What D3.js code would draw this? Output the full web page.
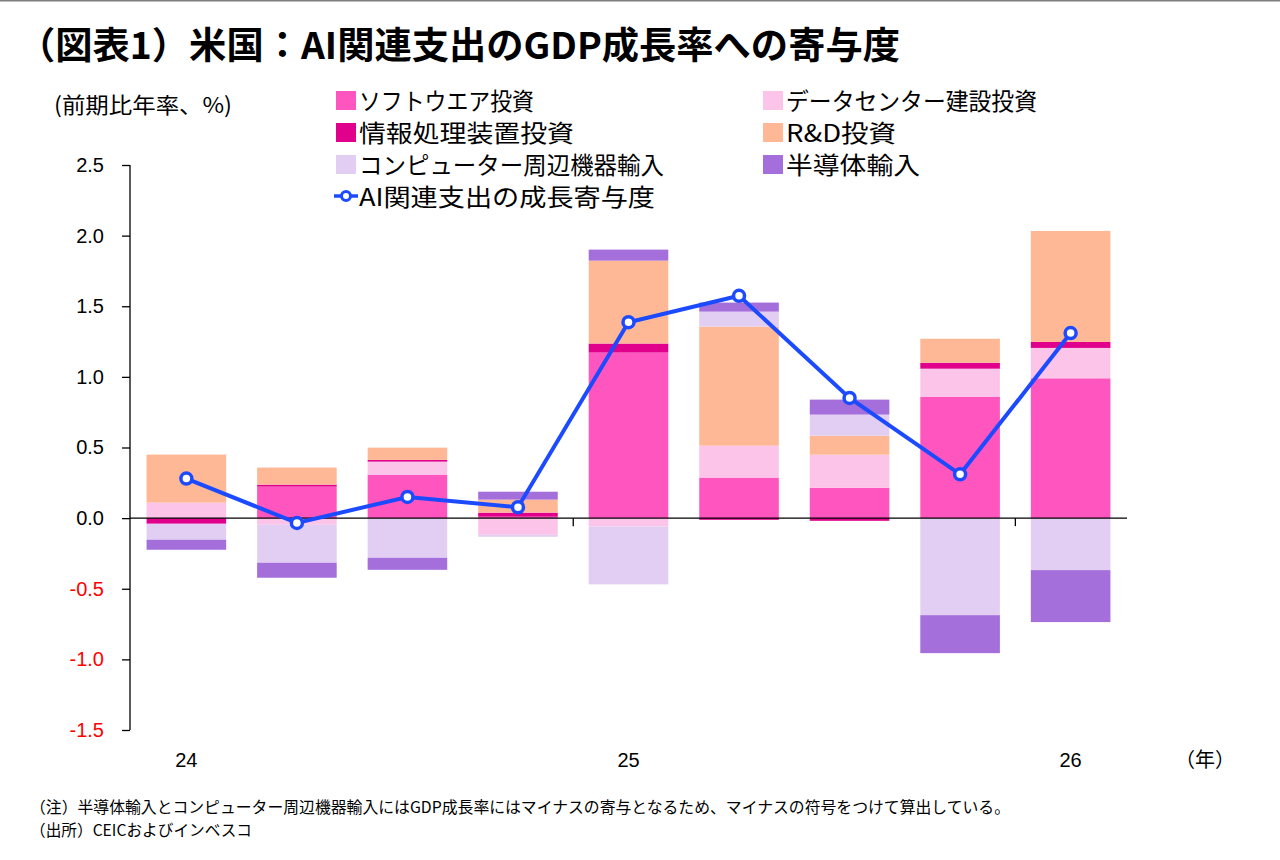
<!DOCTYPE html>
<html>
<head>
<meta charset="utf-8">
<script src="https://cdn.jsdelivr.net/npm/d3@7"></script>
<style>
  body { margin: 0; background: #fff; }
  svg { display: block; }
  .jp { font-family: "Noto Sans CJK JP", sans-serif; }
  .num { font-family: "Liberation Sans", Arial, sans-serif; }
</style>
</head>
<body>
<svg width="1280" height="860"></svg>
<script>
// 四半期（24Q1〜26Q1）
var quarters = ["24Q1","24Q2","24Q3","24Q4","25Q1","25Q2","25Q3","25Q4","26Q1"];
var yearLabels = ["24","","","","25","","","","26"];

var software   = [0.00, 0.223, 0.308, 0.010, 1.172, 0.287, 0.215, 0.860, 0.990];
var datacenter = [0.11, -0.047, 0.092, -0.118, -0.059, 0.226, 0.234, 0.198, 0.215];
var infoEquip  = [-0.04, 0.014, 0.012, 0.029, 0.064, -0.012, -0.019, 0.042, 0.042];
var rnd        = [0.34, 0.121, 0.087, 0.092, 0.587, 0.843, 0.135, 0.170, 0.786];
var computer   = [-0.113, -0.269, -0.281, -0.014, -0.410, 0.106, 0.149, -0.687, -0.368];
var semi       = [-0.071, -0.106, -0.085, 0.056, 0.078, 0.064, 0.106, -0.269, -0.368];
var aiTotal    = [0.28, -0.034, 0.15, 0.077, 1.387, 1.574, 0.851, 0.31, 1.31];

var yTicks = [2.5, 2.0, 1.5, 1.0, 0.5, 0.0, -0.5, -1.0, -1.5];

var series = [
  { key: "software",   name: "ソフトウエア投資",           values: software,   color: "#ff55bf" },
  { key: "datacenter", name: "データセンター建設投資",     values: datacenter, color: "#fdc4ea" },
  { key: "info",       name: "情報処理装置投資",           values: infoEquip,  color: "#e0008c" },
  { key: "rnd",        name: "R&D投資",                    values: rnd,        color: "#ffb896" },
  { key: "computer",   name: "コンピューター周辺機器輸入", values: computer,   color: "#e2cdf3" },
  { key: "semi",       name: "半導体輸入",                 values: semi,       color: "#a56fdb" }
];
var lineName = "AI関連支出の成長寄与度";
var lineColor = "#1c4bff";

var svg = d3.select("svg");

// 上端の罫線
svg.append("line").attr("x1", 0).attr("x2", 1280).attr("y1", 0.5).attr("y2", 0.5)
   .attr("stroke", "#7f7f7f").attr("stroke-width", 2);

svg.append("text").attr("class", "jp")
   .attr("x", 18).attr("y", 59)
   .attr("font-size", 37).attr("font-weight", "bold")
   .attr("textLength", 882).attr("lengthAdjust", "spacingAndGlyphs")
   .text("（図表1）米国：AI関連支出のGDP成長率への寄与度");

svg.append("text").attr("class", "jp")
   .attr("x", 54).attr("y", 113).attr("font-size", 22)
   .attr("textLength", 178).attr("lengthAdjust", "spacingAndGlyphs")
   .text("(前期比年率、%)");

var x = d3.scaleBand().domain(quarters).range([130, 1127])
          .paddingInner(0.28).paddingOuter(0.15);
var y = d3.scaleLinear().domain([-1.5, 2.5]).range([730, 165]);

var table = quarters.map(function(q, i) {
  var row = { q: q };
  series.forEach(function(s) { row[s.key] = s.values[i]; });
  return row;
});

var stack = d3.stack()
  .keys(series.map(function(s) { return s.key; }))
  .offset(d3.stackOffsetDiverging);

var layers = stack(table);

var g = svg.append("g");
g.selectAll(".layer")
 .data(layers)
 .enter().append("g")
 .attr("class", "layer")
 .attr("fill", function(d, i) { return series[i].color; })
 .selectAll("rect")
 .data(function(d) { return d; })
 .enter().append("rect")
 .attr("x", function(d) { return x(d.data.q); })
 .attr("width", x.bandwidth())
 .attr("y", function(d) { return y(Math.max(d[0], d[1])); })
 .attr("height", function(d) { return Math.abs(y(d[0]) - y(d[1])); });

// Y軸
var yAxis = d3.axisLeft(y).tickValues(yTicks)
  .tickFormat(function(d) { return d.toFixed(1); })
  .tickSize(8).tickPadding(18);
var ya = svg.append("g").attr("transform", "translate(130,0)").call(yAxis);
ya.select(".domain").attr("stroke", "#000").attr("stroke-width", 1.3).attr("d", "M0,165V730");
ya.selectAll(".tick line").attr("stroke", "#000").attr("stroke-width", 1.3);
ya.selectAll("text").attr("class", "num").attr("font-size", 20)
  .attr("fill", function(d) { return d < 0 ? "#ff0000" : "#000"; });

// ゼロ軸と年区切り
svg.append("line").attr("x1", 130).attr("x2", 1127)
   .attr("y1", y(0)).attr("y2", y(0)).attr("stroke", "#000").attr("stroke-width", 1.3);
var yearStarts = [4, 8];
svg.selectAll(".ytick").data(yearStarts).enter().append("line")
   .attr("x1", function(i) { return x(quarters[i]) - x.step() * x.paddingInner() / 2; })
   .attr("x2", function(i) { return x(quarters[i]) - x.step() * x.paddingInner() / 2; })
   .attr("y1", y(0)).attr("y2", y(0) + 8).attr("stroke", "#000").attr("stroke-width", 1.3);

svg.selectAll(".xlab").data(quarters).enter().append("text")
   .attr("class", "num").attr("font-size", 20).attr("text-anchor", "middle")
   .attr("x", function(d) { return x(d) + x.bandwidth() / 2; })
   .attr("y", 767)
   .text(function(d, i) { return yearLabels[i]; });

svg.append("text").attr("class", "jp").attr("x", 1205).attr("y", 767)
   .attr("font-size", 20).attr("text-anchor", "middle").text("（年）");

// 折れ線
var line = d3.line()
  .x(function(d, i) { return x(quarters[i]) + x.bandwidth() / 2; })
  .y(function(d) { return y(d); });

svg.append("path").datum(aiTotal)
   .attr("d", line).attr("fill", "none")
   .attr("stroke", lineColor).attr("stroke-width", 4);

svg.selectAll(".dot").data(aiTotal).enter().append("circle")
   .attr("cx", function(d, i) { return x(quarters[i]) + x.bandwidth() / 2; })
   .attr("cy", function(d) { return y(d); })
   .attr("r", 5.5).attr("fill", "#fff")
   .attr("stroke", lineColor).attr("stroke-width", 3.5);

// 凡例
var legendWidths = [175, 251, 215, 110, 305, 134];
var legend = svg.append("g");
series.forEach(function(s, i) {
  var col = i % 2, row = Math.floor(i / 2);
  var lx = col === 0 ? 336 : 763, ly = 100 + row * 32;
  legend.append("rect").attr("x", lx).attr("y", ly - 9).attr("width", 20).attr("height", 19)
        .attr("fill", s.color);
  legend.append("text").attr("class", "jp").attr("x", lx + 23).attr("y", ly + 10)
        .attr("font-size", 24).attr("textLength", legendWidths[i])
        .attr("lengthAdjust", "spacingAndGlyphs").text(s.name);
});
var ly4 = 100 + 3 * 32;
legend.append("line").attr("x1", 334).attr("x2", 358).attr("y1", ly4).attr("y2", ly4)
      .attr("stroke", lineColor).attr("stroke-width", 3.5);
legend.append("circle").attr("cx", 346).attr("cy", ly4).attr("r", 4.5)
      .attr("fill", "#fff").attr("stroke", lineColor).attr("stroke-width", 3);
legend.append("text").attr("class", "jp").attr("x", 359).attr("y", ly4 + 10)
      .attr("font-size", 24).attr("textLength", 296)
      .attr("lengthAdjust", "spacingAndGlyphs").text(lineName);

// 注記
svg.append("text").attr("class", "jp").attr("x", 30).attr("y", 813).attr("font-size", 16)
   .attr("textLength", 980).attr("lengthAdjust", "spacingAndGlyphs")
   .text("（注）半導体輸入とコンピューター周辺機器輸入にはGDP成長率にはマイナスの寄与となるため、マイナスの符号をつけて算出している。");
svg.append("text").attr("class", "jp").attr("x", 30).attr("y", 836).attr("font-size", 16)
   .attr("textLength", 222).attr("lengthAdjust", "spacingAndGlyphs")
   .text("（出所）CEICおよびインベスコ");
</script>
</body>
</html>
